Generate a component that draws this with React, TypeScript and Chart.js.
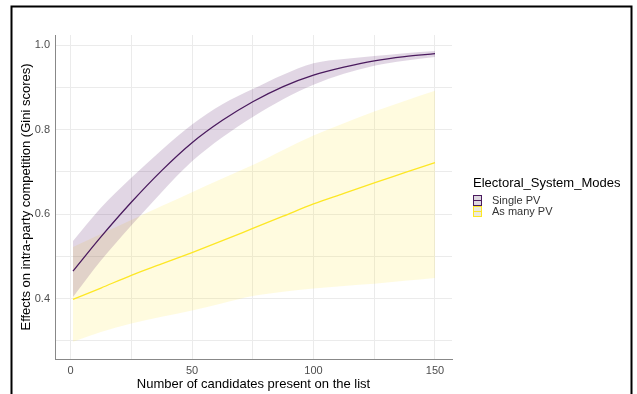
import React, { useEffect, useRef } from "react";
import { Chart, registerables } from "chart.js";

Chart.register(...registerables);

const xValues = [1, 12.5, 25, 37.5, 50, 62.5, 75, 87.5, 100, 112.5, 125, 137.5, 150];
const singlePV = [0.465, 0.546, 0.628, 0.703, 0.769, 0.822, 0.866, 0.902, 0.929, 0.948, 0.963, 0.973, 0.98];
const singleUpper = [0.536, 0.615, 0.686, 0.752, 0.812, 0.86, 0.896, 0.93, 0.957, 0.967, 0.974, 0.981, 0.986];
const singleLower = [0.404, 0.49, 0.573, 0.652, 0.725, 0.782, 0.83, 0.872, 0.906, 0.932, 0.951, 0.963, 0.972];
const manyPV = [0.398, 0.425, 0.455, 0.482, 0.509, 0.537, 0.566, 0.595, 0.624, 0.649, 0.674, 0.698, 0.722];
const manyUpper = [0.522, 0.553, 0.586, 0.619, 0.652, 0.684, 0.716, 0.752, 0.786, 0.815, 0.843, 0.868, 0.892];
const manyLower = [0.298, 0.321, 0.341, 0.357, 0.372, 0.389, 0.406, 0.416, 0.424, 0.43, 0.435, 0.442, 0.449];

const xTicks = [0, 25, 50, 75, 100, 125, 150];
const yTicks = [0.3, 0.4, 0.5, 0.6, 0.7, 0.8, 0.9, 1.0];
const legendTitle = "Electoral_System_Modes";
const seriesNames = ["Single PV", "As many PV"];

const PURPLE = "#4a1a5e";
const YELLOW = "#fde725";
const PURPLE_FILL = "rgba(68,1,84,0.16)";
const YELLOW_FILL = "rgba(253,231,37,0.15)";

const pts = (ys: number[]) => xValues.map((x, i) => ({ x, y: ys[i] }));

const framePlugin = {
  id: "frame",
  beforeDraw(chart: any) {
    const ctx = chart.ctx;
    ctx.save();
    ctx.fillStyle = "#ffffff";
    ctx.fillRect(0, 0, chart.width, chart.height);
    ctx.restore();
  },
  afterDraw(chart: any) {
    const ctx = chart.ctx;
    ctx.save();
    ctx.strokeStyle = "#000000";
    ctx.lineWidth = 2;
    ctx.beginPath();
    ctx.moveTo(11.5, 420);
    ctx.lineTo(11.5, 6.5);
    ctx.lineTo(631.5, 6.5);
    ctx.lineTo(631.5, 420);
    ctx.stroke();

    ctx.fillStyle = "#000000";
    ctx.font = "13px 'Liberation Sans', Arial, sans-serif";
    ctx.textBaseline = "middle";
    ctx.textAlign = "left";
    ctx.fillText(legendTitle, 473, 183);

    const items = [
      { name: seriesNames[0], color: PURPLE, fill: "#ddd7e0", y: 195 },
      { name: seriesNames[1], color: YELLOW, fill: "#ebe9dc", y: 206 },
    ];
    ctx.font = "11px 'Liberation Sans', Arial, sans-serif";
    for (const it of items) {
      ctx.fillStyle = it.fill;
      ctx.fillRect(473, it.y, 8, 10);
      ctx.strokeStyle = it.color;
      ctx.lineWidth = 1;
      ctx.strokeRect(473.5, it.y + 0.5, 8, 10);
      ctx.beginPath();
      ctx.moveTo(473.5, it.y + 5.5);
      ctx.lineTo(481.5, it.y + 5.5);
      ctx.stroke();
      ctx.fillStyle = "#333333";
      ctx.fillText(it.name, 492, it.y + 6);
    }
    ctx.restore();
  },
};

export default function App() {
  const ref = useRef<HTMLCanvasElement | null>(null);
  useEffect(() => {
    if (!ref.current) return;
    const font = "'Liberation Sans', Arial, sans-serif";
    const chart = new Chart(ref.current, {
      type: "line",
      data: {
        datasets: [
          { label: seriesNames[0], data: pts(singlePV), borderColor: PURPLE, borderWidth: 1.3, pointRadius: 0, fill: false, cubicInterpolationMode: "monotone" },
          { label: seriesNames[1], data: pts(manyPV), borderColor: YELLOW, borderWidth: 1.3, pointRadius: 0, fill: false, cubicInterpolationMode: "monotone" },
          { label: "su", data: pts(singleUpper), borderWidth: 0, borderColor: "rgba(0,0,0,0)", pointRadius: 0, backgroundColor: PURPLE_FILL, fill: "+1", cubicInterpolationMode: "monotone" },
          { label: "sl", data: pts(singleLower), borderWidth: 0, borderColor: "rgba(0,0,0,0)", pointRadius: 0, fill: false, cubicInterpolationMode: "monotone" },
          { label: "mu", data: pts(manyUpper), borderWidth: 0, borderColor: "rgba(0,0,0,0)", pointRadius: 0, backgroundColor: YELLOW_FILL, fill: "+1", cubicInterpolationMode: "monotone" },
          { label: "ml", data: pts(manyLower), borderWidth: 0, borderColor: "rgba(0,0,0,0)", pointRadius: 0, fill: false, cubicInterpolationMode: "monotone" },
        ],
      },
      options: {
        animation: false,
        responsive: false,
        layout: { padding: { top: 35, right: 185, left: 0, bottom: 0 } },
        plugins: { legend: { display: false }, tooltip: { enabled: false } },
        scales: {
          x: {
            type: "linear",
            min: -6.4,
            max: 157,
            afterBuildTicks: (s: any) => { s.ticks = xTicks.map((v) => ({ value: v })); },
            afterFit: (s: any) => { s.height = 35; },
            grid: { color: "#ebebeb", lineWidth: 1, drawTicks: false },
            border: { display: true, color: "#888888", width: 1 },
            ticks: {
              padding: 5,
              color: "#4d4d4d",
              font: { family: font, size: 11 },
              maxRotation: 0,
              autoSkip: false,
              callback: (v: any) => (Number(v) % 50 === 0 ? String(v) : ""),
            },
            title: {
              display: true,
              text: "Number of candidates present on the list",
              color: "#000000",
              font: { family: font, size: 13 },
              padding: { top: 0, bottom: 2 },
            },
          },
          y: {
            type: "linear",
            min: 0.257,
            max: 1.024,
            afterBuildTicks: (s: any) => { s.ticks = yTicks.map((v) => ({ value: v })); },
            afterFit: (s: any) => { s.width = 55; },
            grid: { color: "#ebebeb", lineWidth: 1, drawTicks: false },
            border: { display: true, color: "#888888", width: 1 },
            ticks: {
              padding: 5,
              color: "#4d4d4d",
              font: { family: font, size: 11 },
              autoSkip: false,
              callback: (v: any) => (Math.round(Number(v) * 10) % 2 === 0 ? Number(v).toFixed(1) : ""),
            },
            title: {
              display: true,
              text: "Effects on intra-party competition (Gini scores)",
              color: "#000000",
              font: { family: font, size: 13 },
              padding: { top: 19, bottom: 0 },
            },
          },
        },
      } as any,
      plugins: [framePlugin],
    });
    return () => chart.destroy();
  }, []);
  return (
    <div style={{ position: "absolute", left: 0, top: 0, width: 637, height: 394, overflow: "hidden" }}>
      <canvas ref={ref} width={637} height={394} style={{ display: "block" }} />
    </div>
  );
}
